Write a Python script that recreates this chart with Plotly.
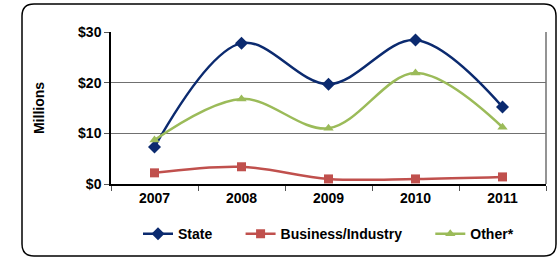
import plotly.graph_objects as go

years = ["2007", "2008", "2009", "2010", "2011"]
state = [7.3, 27.8, 19.7, 28.4, 15.2]
business = [2.2, 3.4, 1.0, 1.0, 1.4]
other = [8.7, 16.8, 11.0, 21.9, 11.2]
y_ticks = [0, 10, 20, 30]
y_tick_labels = ["$0", "$10", "$20", "$30"]

font = dict(family="Liberation Sans, Arial, sans-serif", size=14, color="#000000")
pad = "&nbsp;" * 6

fig = go.Figure()
fig.add_trace(go.Scatter(x=years, y=state, name="<b>State</b>" + pad, mode="lines+markers",
                         line=dict(color="#0b2a6f", width=2.5, shape="spline", smoothing=1),
                         marker=dict(symbol="diamond", size=10, color="#0b2a6f")))
fig.add_trace(go.Scatter(x=years, y=business, name="<b>Business/Industry</b>" + pad, mode="lines+markers",
                         line=dict(color="#c0504d", width=2.5, shape="spline", smoothing=1),
                         marker=dict(symbol="square", size=9, color="#c0504d")))
fig.add_trace(go.Scatter(x=years, y=other, name="<b>Other*</b>", mode="lines+markers",
                         line=dict(color="#9bbb59", width=2.5, shape="spline", smoothing=1),
                         marker=dict(symbol="triangle-up", size=9, color="#9bbb59")))

ml, mr, mt, mb = 111, 14, 32, 74
fig.update_layout(
    width=560, height=258,
    margin=dict(l=ml, r=mr, t=mt, b=mb, autoexpand=False),
    paper_bgcolor="white", plot_bgcolor="white",
    font=font,
    showlegend=True,
    legend=dict(orientation="h", x=0.5, xanchor="center", y=-0.33, yanchor="middle",
                font=dict(size=14), tracegroupgap=0),
    xaxis=dict(type="category", range=[-0.5, 4.5], showline=True, linecolor="#000000", linewidth=1.5,
               ticks="outside", tickson="boundaries", ticklen=5, tickcolor="#555555",
               tickfont=dict(size=14), tickprefix="<b>", ticksuffix="</b>", showgrid=False),
    yaxis=dict(range=[0, 30], tickvals=y_ticks, ticktext=["<b>%s</b>" % t for t in y_tick_labels],
               showline=True, linecolor="#000000", linewidth=1.5, ticks="outside", ticklen=5,
               tickcolor="#555555", showgrid=True, gridcolor="#707070", gridwidth=1,
               tickfont=dict(size=14), zeroline=False,
               title=dict(text="<b>Millions</b>", font=dict(size=14), standoff=30)),
)

fig.add_shape(type="line", xref="paper", yref="paper", x0=1, x1=1, y0=0, y1=1,
              line=dict(color="#707070", width=1.5))

# rounded border of the chart area (pixel coords converted to paper)
pw, ph = 560 - ml - mr, 258 - mt - mb
def px(x):
    return (x - ml) / pw
def py(y):
    return (258 - mb - y) / ph
x0, x1, y0, y1, r = 22, 556, 4, 256, 12
path = (f"M {px(x0 + r)},{py(y0)} L {px(x1 - r)},{py(y0)} "
        f"Q {px(x1)},{py(y0)} {px(x1)},{py(y0 + r)} L {px(x1)},{py(y1 - r)} "
        f"Q {px(x1)},{py(y1)} {px(x1 - r)},{py(y1)} L {px(x0 + r)},{py(y1)} "
        f"Q {px(x0)},{py(y1)} {px(x0)},{py(y1 - r)} L {px(x0)},{py(y0 + r)} "
        f"Q {px(x0)},{py(y0)} {px(x0 + r)},{py(y0)} Z")
fig.add_shape(type="path", xref="paper", yref="paper", path=path,
              line=dict(color="#000000", width=1.5), layer="below")

fig.write_html("out.html", config={"displayModeBar": False},
               post_script="document.body.style.margin='0';")
